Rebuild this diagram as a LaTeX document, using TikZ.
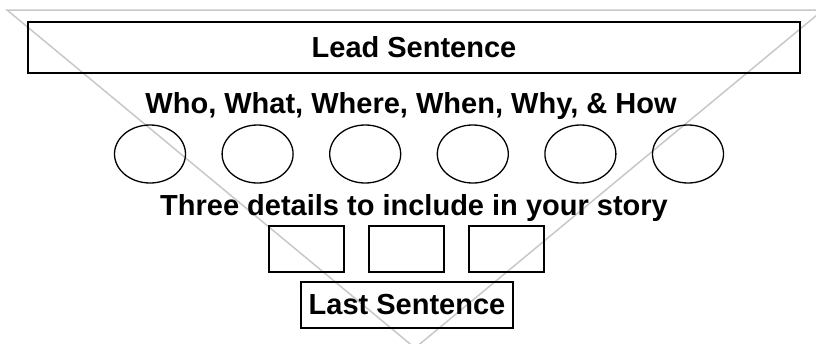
\documentclass[tikz,border=0pt]{standalone}
\usepackage{fontspec}
\setmainfont{Liberation Sans}
\usetikzlibrary{shapes.geometric}
\definecolor{tri}{RGB}{200,200,200}
\begin{document}
\begin{tikzpicture}[x=1pt,y=-1pt,
  lbl/.style={font=\fontsize{29}{33}\selectfont\bfseries, inner sep=0pt, outer sep=0pt},
  bigbox/.style={draw=black, line width=1.5pt, rectangle, inner sep=0pt, outer sep=0pt},
  oval/.style={draw=black, line width=1.3pt, ellipse, minimum width=71pt, minimum height=58pt, inner sep=0pt},
  smallbox/.style={draw=black, line width=1.5pt, rectangle, minimum width=75pt, minimum height=46pt, inner sep=0pt}]
\useasboundingbox (0,0) rectangle (816,343);
% background triangle
\coordinate (tl) at (7,10);
\coordinate (tr) at (823,10);
\coordinate (ap) at (415,348);
\draw[tri, line width=1.5pt] (tl) -- (tr) -- (ap) -- cycle;
% lead
\node[bigbox, minimum width=772pt, minimum height=51pt, lbl] (lead) at (414,47.5) {Lead Sentence};
\node[lbl, anchor=base] (who) at (411,113) {Who, What, Where, When, Why, \& How};
\foreach \i/\x in {1/150,2/257.6,3/365.2,4/472.8,5/580.4,6/688}
  \node[oval] (e\i) at (\x,154) {};
\node[lbl, anchor=base] (three) at (414,215) {Three details to include in your story};
\foreach \i/\x in {1/306.5,2/406.5,3/506.5}
  \node[smallbox] (r\i) at (\x,249) {};
\node[bigbox, minimum width=212pt, minimum height=46pt, lbl] (last) at (407,305) {Last Sentence};
\end{tikzpicture}
\end{document}
